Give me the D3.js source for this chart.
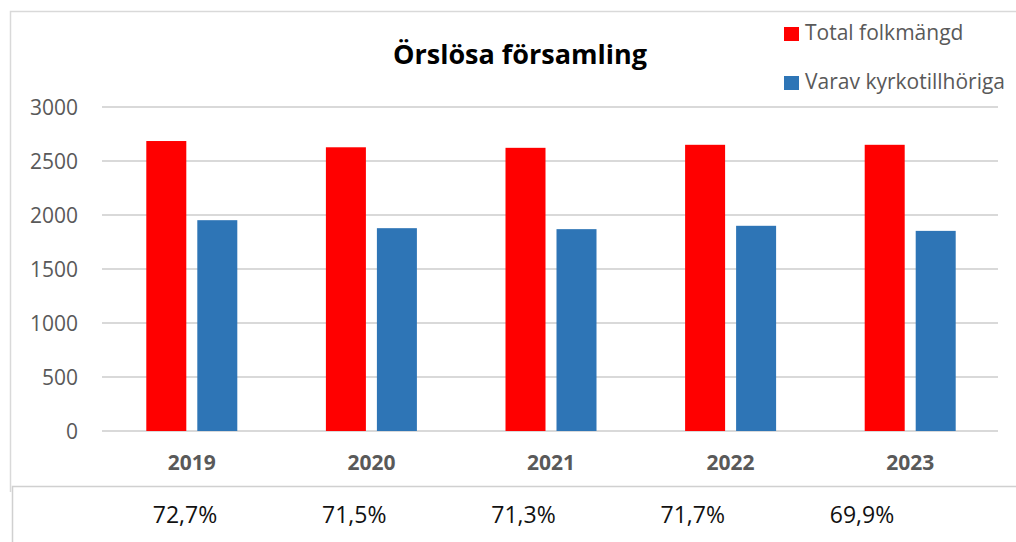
<!DOCTYPE html>
<html lang="sv">
<head>
    <meta charset="UTF-8">
    <title>Örslösa församling</title>
    <script src="https://d3js.org/d3.v7.min.js"></script>
    <style>
        body { margin: 0; background: #fff; font-family: "Open Sans", sans-serif; }
        .tick text { fill: #595959; font-family: "Open Sans", sans-serif; }
    </style>
</head>
<body>
<svg id="chart"></svg>
<script>
    // data
    const years = ["2019", "2020", "2021", "2022", "2023"];
    const total = [2685, 2627, 2622, 2650, 2650];
    const members = [1952, 1878, 1869, 1900, 1853];
    const shares = ["72,7%", "71,5%", "71,3%", "71,7%", "69,9%"];
    const yTicks = [0, 500, 1000, 1500, 2000, 2500, 3000];
    const seriesNames = ["Total folkmängd", "Varav kyrkotillhöriga"];
    const colors = ["#ff0000", "#2e75b6"];

    const W = 1016, H = 542;
    const svg = d3.select("#chart").attr("width", W).attr("height", H);

    // frame lines
    svg.append("path")
        .attr("d", "M10.5,492 V11.5 H1016")
        .attr("fill", "none").attr("stroke", "#d9d9d9").attr("stroke-width", 1.5);
    svg.append("path")
        .attr("d", "M12.5,542 V486.5 H1016")
        .attr("fill", "none").attr("stroke", "#d0d0d0").attr("stroke-width", 1.5);

    const x = d3.scaleBand().domain(years).range([102, 1000]);
    const y = d3.scaleLinear().domain([0, 3000]).range([431, 107]);

    // grid
    svg.append("g").selectAll("line")
        .data(yTicks)
        .enter().append("line")
        .attr("x1", 102).attr("x2", 998)
        .attr("y1", d => y(d)).attr("y2", d => y(d))
        .attr("stroke", "#d9d9d9").attr("stroke-width", 2);

    // y labels
    svg.append("g")
        .attr("transform", "translate(78,0)")
        .call(d3.axisLeft(y).tickValues(yTicks).tickFormat(d3.format("d")).tickSize(0).tickPadding(0))
        .call(g => g.select(".domain").remove())
        .selectAll("text")
        .style("font-size", "21px")
        .attr("dy", "0.36em");

    // x labels
    svg.append("g")
        .attr("transform", "translate(0,470)")
        .call(d3.axisBottom(x).tickSize(0).tickPadding(0))
        .call(g => g.select(".domain").remove())
        .selectAll("text")
        .attr("y", 0)
        .attr("dy", 0)
        .style("font-size", "21px")
        .style("font-weight", "bold");

    const barW = 40, gap = 11;
    const sub = d3.scaleOrdinal().domain([0, 1]).range([-(barW + gap / 2), gap / 2]);
    const bars = svg.append("g");
    [total, members].forEach((vals, s) => {
        bars.selectAll(".bar" + s)
            .data(vals)
            .enter().append("rect")
            .attr("class", "bar" + s)
            .attr("x", (d, i) => x(years[i]) + x.bandwidth() / 2 + sub(s))
            .attr("y", d => y(d))
            .attr("width", barW)
            .attr("height", d => y(0) - y(d))
            .attr("fill", colors[s]);
    });

    // title
    svg.append("text")
        .attr("x", 520).attr("y", 64)
        .attr("text-anchor", "middle")
        .style("font-size", "27px")
        .style("font-weight", "bold")
        .attr("fill", "#000")
        .text("Örslösa församling");

    // legend
    const leg = svg.append("g").attr("transform", "translate(784,27)");
    seriesNames.forEach((n, i) => {
        leg.append("rect").attr("x", 0).attr("y", i * 49).attr("width", 15).attr("height", 14).attr("fill", colors[i]);
        leg.append("text").attr("x", 21).attr("y", i * 49 + 13)
            .style("font-size", "21px")
            .attr("fill", "#595959")
            .text(n);
    });

    // share row
    const xs = d3.scalePoint().domain(years).range([185, 862]);
    svg.append("g").selectAll("text")
        .data(shares)
        .enter().append("text")
        .attr("x", (d, i) => xs(years[i]))
        .attr("y", 523)
        .attr("text-anchor", "middle")
        .style("font-size", "23px")
        .style("font-weight", "500")
        .attr("fill", "#111")
        .text(d => d);
</script>
</body>
</html>
